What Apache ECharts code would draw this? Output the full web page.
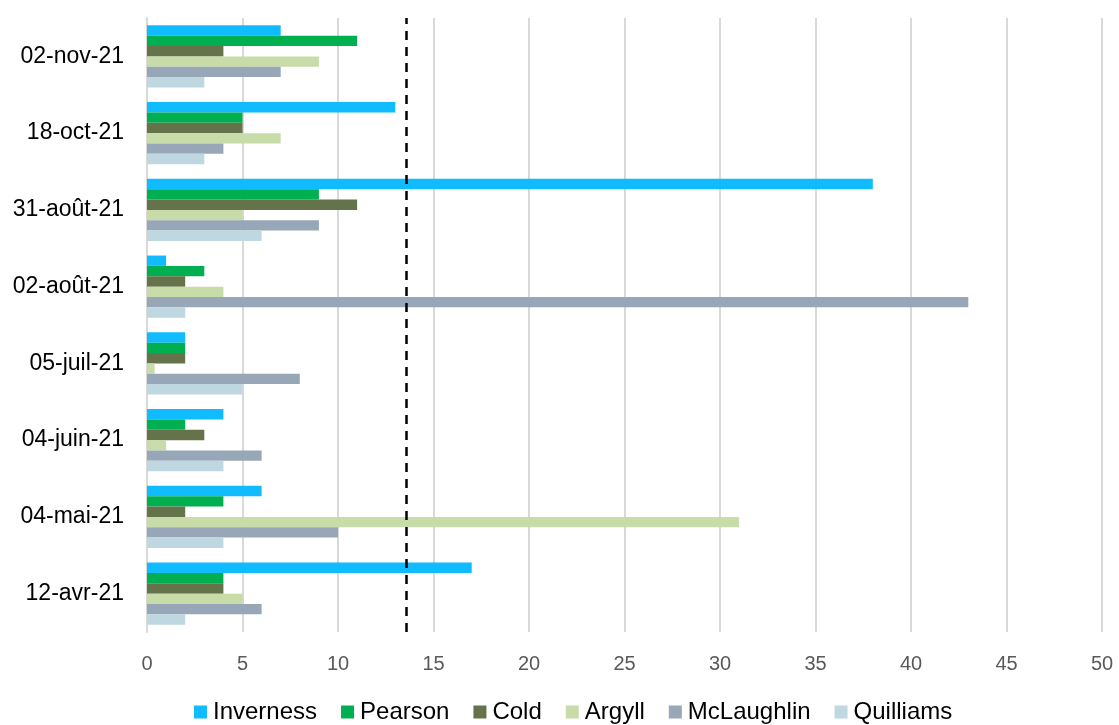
<!DOCTYPE html>
<html><head><meta charset="utf-8">
<script src="https://cdn.jsdelivr.net/npm/echarts@6/dist/echarts.min.js"></script>
<style>html,body{margin:0;padding:0;background:#fff}#c{width:1119px;height:725px}</style>
</head><body><div id="c"></div>
<script>
const categories = ['12-avr-21','04-mai-21','04-juin-21','05-juil-21','02-août-21','31-août-21','18-oct-21','02-nov-21'];
const seriesNames = ['Inverness','Pearson','Cold','Argyll','McLaughlin','Quilliams'];
const inverness  = [17, 6, 4, 2, 1, 38, 13, 7];
const pearson    = [4, 4, 2, 2, 3, 9, 5, 11];
const cold       = [4, 2, 3, 2, 2, 11, 5, 4];
const argyll     = [5, 31, 1, 0.4, 4, 5, 7, 9];
const mclaughlin = [6, 10, 6, 8, 43, 9, 4, 7];
const quilliams  = [2, 4, 4, 5, 2, 6, 3, 3];
const threshold = 13.56;
const xTicks = {min: 0, max: 50, interval: 5};

const colors = ['#10BBFF','#00B050','#647349','#C8DCA9','#98A7B8','#BFD7E1'];
const values = [inverness, pearson, cold, argyll, mclaughlin, quilliams];

const series = seriesNames.map((n, i) => ({
  name: n, type: 'bar', data: values[i],
  itemStyle: {color: colors[i]},
  barGap: '0%', barCategoryGap: '19%',
  z: 2
}));
series[0].markLine = {
  silent: true, symbol: 'none', label: {show: false},
  lineStyle: {color: '#000', type: [9, 7], width: 2.5},
  data: [{xAxis: threshold}]
};

const chart = echarts.init(document.getElementById('c'));
chart.setOption({
  animation: false,
  color: colors,
  grid: {left: 147, right: 17, top: 18, bottom: 93, containLabel: false},
  legend: {
    data: seriesNames, bottom: -4, left: 189,
    itemWidth: 13, itemHeight: 13, itemGap: 24,
    icon: 'rect',
    textStyle: {fontFamily: 'Liberation Sans, Arial', fontSize: 24, color: '#000', padding: [0,0,0,1]}
  },
  xAxis: {
    type: 'value', min: xTicks.min, max: xTicks.max, interval: xTicks.interval,
    axisLine: {show: false}, axisTick: {show: false},
    splitLine: {lineStyle: {color: '#D9D9D9', width: 2}},
    axisLabel: {fontFamily: 'Liberation Sans, Arial', fontSize: 20, color: '#595959', margin: 22}
  },
  yAxis: {
    type: 'category', data: categories,
    axisLine: {lineStyle: {color: '#D9D9D9', width: 2}},
    axisTick: {show: false},
    axisLabel: {fontFamily: 'Liberation Sans, Arial', fontSize: 23, color: '#000', margin: 23}
  },
  series: series
});
</script></body></html>
